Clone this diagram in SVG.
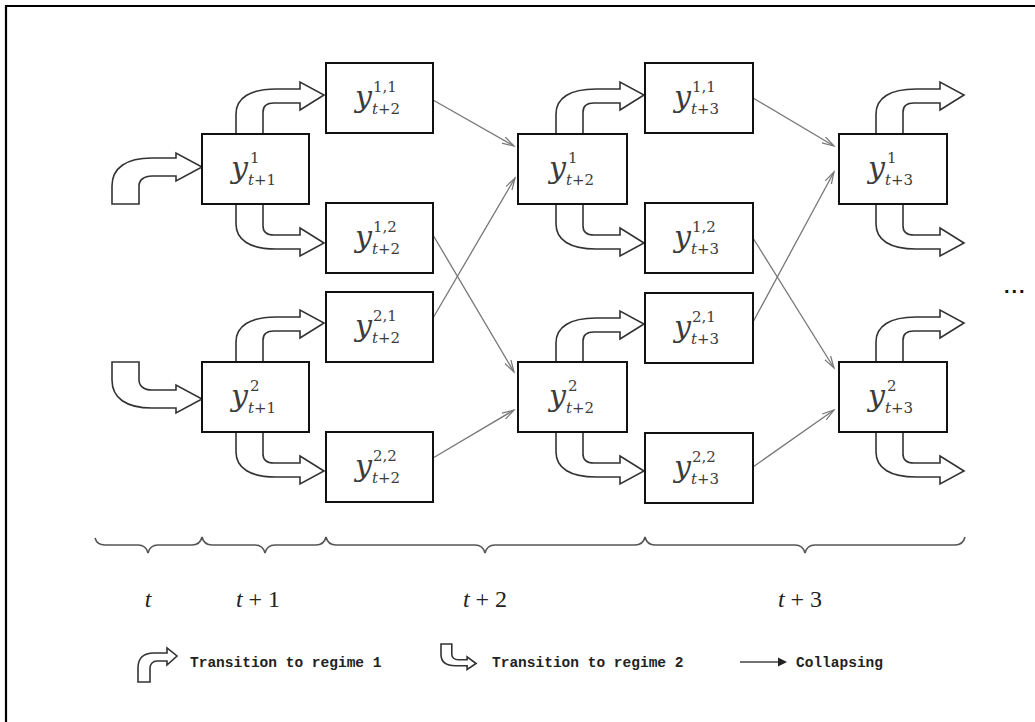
<svg xmlns="http://www.w3.org/2000/svg" xmlns:xlink="http://www.w3.org/1999/xlink" width="1035" height="722" viewBox="0 0 1035 722">
<style>
.box{fill:#fff;stroke:#111;stroke-width:2}
.v{font-family:"DejaVu Serif",serif;font-style:italic;font-size:30px;fill:#3c3c3c}
.sup,.sub{font-family:"DejaVu Serif",serif;font-size:15px;fill:#3c3c3c}
.it{font-style:italic}
.ba{fill:#fff;stroke:#333;stroke-width:1.6;stroke-linejoin:miter}
.col{stroke:#777;stroke-width:1.3;fill:none;marker-end:url(#open)}
.brace{fill:none;stroke:#555;stroke-width:1.6}
.tl{font-family:"Liberation Serif",serif;font-size:24px;fill:#222;text-anchor:middle}
.leg{font-family:"Liberation Mono",monospace;font-size:14.5px;font-weight:bold;fill:#222}
</style>
<defs>
<marker id="open" markerUnits="userSpaceOnUse" markerWidth="14" markerHeight="10" refX="12" refY="4" orient="auto">
<path d="M0,0.5 L12,4 L0,7.5" fill="none" stroke="#777" stroke-width="1.2"/>
</marker>
<path id="tr" class="ba" d="M0,0 L0,-20 C0,-36 14,-45 40,-45 L64,-45 L64,-52 L88,-39 L64,-24 L64,-31 L38,-31 C30,-31 27,-27 27,-22 L27,0"/>
<path id="en" class="ba" d="M0,0 L0,-18 C0,-36 14,-46 40,-46 L64,-46 L64,-51 L90,-37 L64,-23 L64,-28 L40,-28 C32,-28 27,-24 27,-18 L27,0 Z"/>
<path id="ic" class="ba" vector-effect="non-scaling-stroke" d="M0,0 L0,-14 C0,-24 6,-29 16,-29 L29,-29 L29,-34 L39,-26 L29,-17 L29,-21 L19,-21 C15,-21 12,-18 12,-14 L12,0 Z"/>
</defs>
<rect width="1035" height="722" fill="#fff"/>
<path d="M6,722 V6 H1035" fill="none" stroke="#000" stroke-width="2.2"/>

<g id="connectors">
<use xlink:href="#en" transform="translate(112,204)"/>
<use xlink:href="#en" transform="translate(112,362) scale(1,-1)"/>
<use xlink:href="#tr" transform="translate(236,134)"/>
<use xlink:href="#tr" transform="translate(236,204) scale(1,-1)"/>
<use xlink:href="#tr" transform="translate(236,362)"/>
<use xlink:href="#tr" transform="translate(236,432) scale(1,-1)"/>
<use xlink:href="#tr" transform="translate(556,134)"/>
<use xlink:href="#tr" transform="translate(556,204) scale(1,-1)"/>
<use xlink:href="#tr" transform="translate(556,363)"/>
<use xlink:href="#tr" transform="translate(556,432) scale(1,-1)"/>
<use xlink:href="#tr" transform="translate(876,134)"/>
<use xlink:href="#tr" transform="translate(876,204) scale(1,-1)"/>
<use xlink:href="#tr" transform="translate(876,362)"/>
<use xlink:href="#tr" transform="translate(876,432) scale(1,-1)"/>
<line class="col" x1="433" y1="100" x2="514" y2="146"/>
<line class="col" x1="433" y1="318" x2="515" y2="178"/>
<line class="col" x1="433" y1="235" x2="514" y2="372"/>
<line class="col" x1="433" y1="458" x2="514" y2="410"/>
<line class="col" x1="753" y1="98" x2="834" y2="146"/>
<line class="col" x1="753" y1="322" x2="834" y2="172"/>
<line class="col" x1="753" y1="238" x2="834" y2="368"/>
<line class="col" x1="753" y1="467" x2="834" y2="410"/>
</g>

<g id="n_y1_t1"><rect class="box" x="202" y="134" width="107" height="70"/><text class="v" x="231" y="178">y</text><text class="sup" x="250" y="163">1</text><text class="sub" x="248" y="185"><tspan class="it">t</tspan>+1</text></g>
<g id="n_y2_t1"><rect class="box" x="202" y="362" width="107" height="70"/><text class="v" x="231" y="406">y</text><text class="sup" x="250" y="391">2</text><text class="sub" x="248" y="413"><tspan class="it">t</tspan>+1</text></g>

<g id="n_y11_t2"><rect class="box" x="326" y="63" width="107" height="70"/><text class="v" x="355" y="107">y</text><text class="sup" x="373" y="92">1,1</text><text class="sub" x="372" y="114"><tspan class="it">t</tspan>+2</text></g>
<g id="n_y12_t2"><rect class="box" x="326" y="203" width="107" height="70"/><text class="v" x="355" y="247">y</text><text class="sup" x="373" y="232">1,2</text><text class="sub" x="372" y="254"><tspan class="it">t</tspan>+2</text></g>
<g id="n_y21_t2"><rect class="box" x="326" y="292" width="107" height="70"/><text class="v" x="355" y="336">y</text><text class="sup" x="373" y="321">2,1</text><text class="sub" x="372" y="343"><tspan class="it">t</tspan>+2</text></g>
<g id="n_y22_t2"><rect class="box" x="326" y="432" width="107" height="70"/><text class="v" x="355" y="476">y</text><text class="sup" x="373" y="461">2,2</text><text class="sub" x="372" y="483"><tspan class="it">t</tspan>+2</text></g>

<g id="n_y1_t2"><rect class="box" x="518" y="134" width="109" height="70"/><text class="v" x="549" y="178">y</text><text class="sup" x="568" y="163">1</text><text class="sub" x="566" y="185"><tspan class="it">t</tspan>+2</text></g>
<g id="n_y2_t2"><rect class="box" x="518" y="362" width="109" height="70"/><text class="v" x="549" y="406">y</text><text class="sup" x="568" y="391">2</text><text class="sub" x="566" y="413"><tspan class="it">t</tspan>+2</text></g>

<g id="n_y11_t3"><rect class="box" x="645" y="63" width="108" height="70"/><text class="v" x="674" y="107">y</text><text class="sup" x="692" y="92">1,1</text><text class="sub" x="691" y="114"><tspan class="it">t</tspan>+3</text></g>
<g id="n_y12_t3"><rect class="box" x="645" y="203" width="108" height="70"/><text class="v" x="674" y="247">y</text><text class="sup" x="692" y="232">1,2</text><text class="sub" x="691" y="254"><tspan class="it">t</tspan>+3</text></g>
<g id="n_y21_t3"><rect class="box" x="645" y="293" width="108" height="70"/><text class="v" x="674" y="337">y</text><text class="sup" x="692" y="322">2,1</text><text class="sub" x="691" y="344"><tspan class="it">t</tspan>+3</text></g>
<g id="n_y22_t3"><rect class="box" x="645" y="433" width="108" height="70"/><text class="v" x="674" y="477">y</text><text class="sup" x="692" y="462">2,2</text><text class="sub" x="691" y="484"><tspan class="it">t</tspan>+3</text></g>

<g id="n_y1_t3"><rect class="box" x="839" y="134" width="108" height="70"/><text class="v" x="868" y="178">y</text><text class="sup" x="887" y="163">1</text><text class="sub" x="885" y="185"><tspan class="it">t</tspan>+3</text></g>
<g id="n_y2_t3"><rect class="box" x="839" y="362" width="108" height="70"/><text class="v" x="868" y="406">y</text><text class="sup" x="887" y="391">2</text><text class="sub" x="885" y="413"><tspan class="it">t</tspan>+3</text></g>

<text id="ellipsis" x="1004" y="293" font-family="Liberation Sans, sans-serif" font-weight="bold" font-size="20" letter-spacing="2" fill="#111">...</text>

<g id="timeline">
<path class="brace" d="M95,538 Q97,545 105,545 L138,545 Q146,545 148,553 Q150,545 158,545 L192,545 Q200,545 202,537 Q204,545 212,545 L255,545 Q263,545 265,553 Q267,545 275,545 L316,545 Q324,545 326,537 Q328,545 336,545 L475,545 Q483,545 485,553 Q487,545 495,545 L635,545 Q643,545 645,537 Q647,545 655,545 L795,545 Q803,545 805,553 Q807,545 815,545 L955,545 Q963,545 965,537"/>
<text class="tl" x="148" y="607"><tspan class="it">t</tspan></text>
<text class="tl" x="258" y="607"><tspan class="it">t</tspan> + 1</text>
<text class="tl" x="485" y="607"><tspan class="it">t</tspan> + 2</text>
<text class="tl" x="800" y="607"><tspan class="it">t</tspan> + 3</text>
</g>

<g id="legend">
<use xlink:href="#ic" transform="translate(138,682)"/>
<text class="leg" x="190" y="667">Transition to regime 1</text>
<use xlink:href="#ic" transform="translate(441,644) scale(0.9,-0.75)"/>
<text class="leg" x="492" y="667">Transition to regime 2</text>
<line x1="740" y1="662" x2="779" y2="662" stroke="#444" stroke-width="1.4"/>
<path d="M778,657.5 L787,662 L778,666.5 Z" fill="#222"/>
<text class="leg" x="796" y="667">Collapsing</text>
</g>
</svg>
